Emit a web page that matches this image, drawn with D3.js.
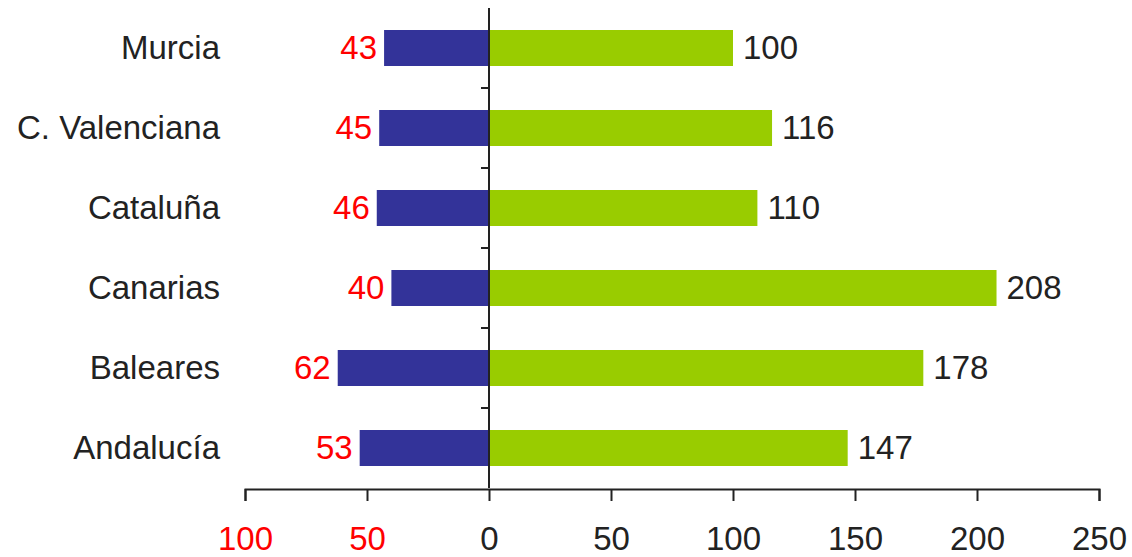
<!DOCTYPE html>
<html>
<head>
<meta charset="utf-8">
<script src="https://cdn.jsdelivr.net/npm/d3@7"></script>
<style>
  body { margin: 0; background: #fff; }
  text { font-family: "Liberation Sans", Arial, sans-serif; }
</style>
</head>
<body>
<div id="chart"></div>
<script>
// data
var categories = ['Murcia', 'C. Valenciana', 'Cataluña', 'Canarias', 'Baleares', 'Andalucía']
var leftValues = [43, 45, 46, 40, 62, 53]
var rightValues = [100, 116, 110, 208, 178, 147]
var xTicks = [-100, -50, 0, 50, 100, 150, 200, 250]

var width = 1132
var height = 557
var fontSize = 33

var svg = d3.select('#chart')
  .append('svg')
  .attr('width', width)
  .attr('height', height)

var x = d3.scaleLinear().domain([-100, 250]).range([245, 1099])
var y = d3.scaleBand().domain(categories).range([8, 488])
var barH = y.bandwidth() * 0.45

var rows = categories.map((c, i) => ({ name: c, left: leftValues[i], right: rightValues[i] }))

// bars
svg.selectAll('.bar-left')
  .data(rows)
  .enter()
  .append('rect')
  .attr('x', d => x(-d.left))
  .attr('y', d => y(d.name) + (y.bandwidth() - barH) / 2)
  .attr('width', d => x(0) - x(-d.left))
  .attr('height', barH)
  .attr('fill', '#333399')

svg.selectAll('.bar-right')
  .data(rows)
  .enter()
  .append('rect')
  .attr('x', x(0))
  .attr('y', d => y(d.name) + (y.bandwidth() - barH) / 2)
  .attr('width', d => x(d.right) - x(0))
  .attr('height', barH)
  .attr('fill', '#99cc00')

// value labels
svg.selectAll('.lab-left')
  .data(rows)
  .enter()
  .append('text')
  .attr('x', d => x(-d.left) - 7)
  .attr('y', d => y(d.name) + y.bandwidth() / 2 + 11)
  .attr('text-anchor', 'end')
  .attr('fill', '#ff0000')
  .style('font-size', fontSize + 'px')
  .text(d => d.left)

svg.selectAll('.lab-right')
  .data(rows)
  .enter()
  .append('text')
  .attr('x', d => x(d.right) + 10)
  .attr('y', d => y(d.name) + y.bandwidth() / 2 + 11)
  .attr('fill', '#222')
  .style('font-size', fontSize + 'px')
  .text(d => d.right)

// category labels
svg.selectAll('.cat')
  .data(rows)
  .enter()
  .append('text')
  .attr('x', 220)
  .attr('y', d => y(d.name) + y.bandwidth() / 2 + 11)
  .attr('text-anchor', 'end')
  .attr('fill', '#222')
  .style('font-size', fontSize + 'px')
  .text(d => d.name)

// vertical axis at zero with ticks between categories
var yAxis = svg.append('g').attr('stroke', '#222').attr('stroke-width', 2)
yAxis.append('line')
  .attr('x1', x(0)).attr('x2', x(0))
  .attr('y1', y.range()[0]).attr('y2', y.range()[1])
yAxis.selectAll('.ytick')
  .data(categories.slice(1))
  .enter()
  .append('line')
  .attr('x1', x(0) - 8).attr('x2', x(0))
  .attr('y1', d => y(d)).attr('y2', d => y(d))

// bottom axis
var axisY = 489
var xAxis = svg.append('g')
  .attr('transform', 'translate(0,' + axisY + ')')
  .call(d3.axisBottom(x).tickValues(xTicks).tickSizeOuter(0).tickSize(12).tickFormat(d => Math.abs(d)))

xAxis.select('.domain').attr('stroke', '#222').attr('stroke-width', 2)
xAxis.selectAll('.tick line').attr('stroke', '#222').attr('stroke-width', 2)
xAxis.selectAll('.tick text')
  .attr('y', 0)
  .attr('dy', 61)
  .style('font-size', fontSize + 'px')
  .style('font-family', '"Liberation Sans", Arial, sans-serif')
  .attr('fill', d => d < 0 ? '#ff0000' : '#222')
</script>
</body>
</html>
